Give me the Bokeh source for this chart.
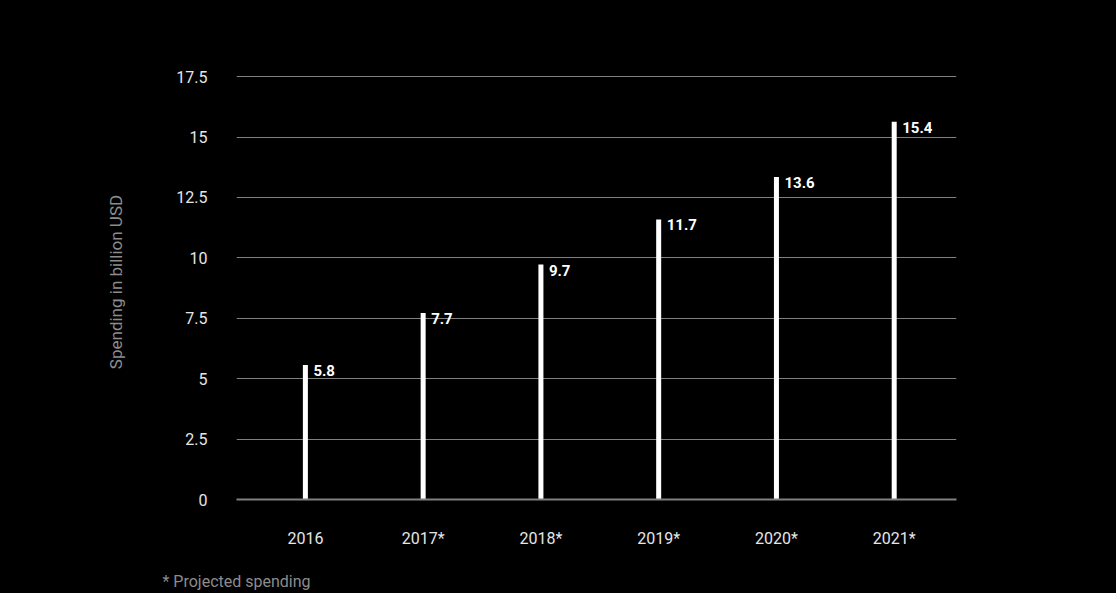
from bokeh.plotting import figure
from bokeh.models import Range1d, FixedTicker, ColumnDataSource
from bokeh.core.properties import value
from bokeh.embed import file_html
from bokeh.resources import INLINE

# ---- data ----
years = ["2016", "2017*", "2018*", "2019*", "2020*", "2021*"]
bar_values = [5.57, 7.72, 9.72, 11.59, 13.34, 15.63]
value_labels = ["5.8", "7.7", "9.7", "11.7", "13.6", "15.4"]
y_ticks = [0, 2.5, 5, 7.5, 10, 12.5, 15, 17.5]
y_tick_labels = ["0", "2.5", "5", "7.5", "10", "12.5", "15", "17.5"]
y_axis_title = "Spending in billion USD"
footnote = "* Projected spending"

FONT = "Roboto"
xs = list(range(len(years)))

p = figure(
    width=1116, height=593,
    x_range=Range1d(-0.585, 5.529), y_range=Range1d(0, 18),
    output_backend="svg", toolbar_location=None,
    min_border_left=236, min_border_right=160,
    min_border_top=64, min_border_bottom=94,
    background_fill_color="black", border_fill_color="black",
)
p.outline_line_color = None
p.styles = {"background-color": "black"}

src = ColumnDataSource(dict(x=xs, top=bar_values, lab=value_labels))
p.vbar(x="x", top="top", bottom=0, width=0.0425, source=src,
       fill_color="white", line_color=None)
p.text(x="x", y="top", text="lab", source=src, x_offset=8, y_offset=0,
       text_align="left", text_baseline="top", text_color="white",
       text_font=value(FONT), text_font_style="bold", text_font_size="15px")

# grid
p.xgrid.grid_line_color = None
p.ygrid.ticker = FixedTicker(ticks=y_ticks)
p.ygrid.grid_line_color = "#808080"
p.ygrid.grid_line_width = 1

# y axis
p.yaxis.ticker = FixedTicker(ticks=y_ticks)
p.yaxis.major_label_overrides = {t: l for t, l in zip(y_ticks, y_tick_labels)}
p.yaxis.axis_line_color = None
p.yaxis.major_tick_line_color = None
p.yaxis.minor_tick_line_color = None
p.yaxis.major_label_standoff = 23
p.yaxis.major_label_text_color = "#e6e6e6"
p.yaxis.major_label_text_font = FONT
p.yaxis.major_label_text_font_size = "16px"
p.yaxis.axis_label = y_axis_title
p.yaxis.axis_label_text_color = "#8c8c8c"
p.yaxis.axis_label_text_font = FONT
p.yaxis.axis_label_text_font_size = "17px"
p.yaxis.axis_label_text_font_style = "normal"
p.yaxis.axis_label_standoff = 47

# x axis (its axis label carries the footnote)
p.xaxis.ticker = FixedTicker(ticks=xs)
p.xaxis.major_label_overrides = {i: y for i, y in zip(xs, years)}
p.xaxis.axis_line_color = "#808080"
p.xaxis.axis_line_width = 2
p.xaxis.major_tick_line_color = None
p.xaxis.minor_tick_line_color = None
p.xaxis.major_label_standoff = 23
p.xaxis.major_label_text_color = "#e6e6e6"
p.xaxis.major_label_text_font = FONT
p.xaxis.major_label_text_font_size = "16px"
p.xaxis.axis_label = footnote
p.xaxis.axis_label_align = "start"
p.xaxis.axis_label_standoff = 21
p.xaxis.axis_label_text_color = "#8c8c8c"
p.xaxis.axis_label_text_font = FONT
p.xaxis.axis_label_text_font_size = "16px"
p.xaxis.axis_label_text_font_style = "normal"

open("out.html", "w").write(file_html(p, INLINE))
